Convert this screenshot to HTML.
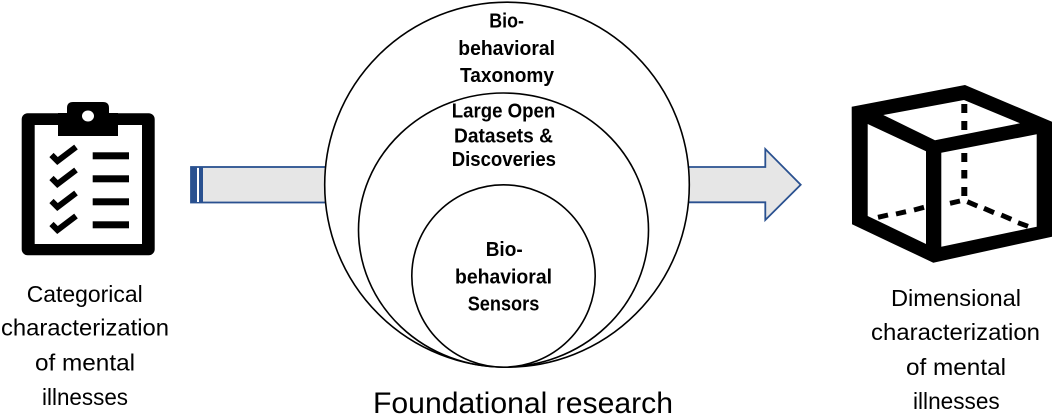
<!DOCTYPE html>
<html>
<head>
<meta charset="utf-8">
<style>
html,body{margin:0;padding:0;background:#fff;width:1053px;height:416px;overflow:hidden}
svg{display:block;filter:blur(.35px)}
text{font-family:"Liberation Sans",sans-serif;fill:#000}
.n{font-size:23.5px}
.b{font-size:20px;font-weight:bold}
</style>
</head>
<body>
<svg width="1053" height="416" viewBox="0 0 1053 416" xmlns="http://www.w3.org/2000/svg">
<rect width="1053" height="416" fill="#fff"/>

<!-- Clipboard -->
<rect x="21.7" y="113.3" width="133" height="142" rx="6" fill="#000"/>
<rect x="34.7" y="125" width="107.3" height="119" fill="#fff"/>
<path d="M58 113H67V108Q67 102 73 102H103Q109 102 109 108V113H118V136H58Z" fill="#000"/>
<ellipse cx="88" cy="116" rx="6" ry="5.5" fill="#fff"/>
<g stroke="#000" stroke-width="6" fill="none">
<path d="M51.5 155L57.5 161L76 147"/>
<path d="M51.5 178L57.5 184L76 170"/>
<path d="M51.5 201L57.5 207L76 193"/>
<path d="M51.5 224L57.5 230L76 216"/>
</g>
<g fill="#000">
<rect x="92.7" y="152.3" width="36.3" height="7"/>
<rect x="92.7" y="175.3" width="36.3" height="7"/>
<rect x="92.7" y="198.3" width="36.3" height="7"/>
<rect x="92.7" y="221.3" width="36.3" height="7"/>
</g>

<!-- Left arrow -->
<rect x="191" y="167" width="140" height="35.5" fill="#e6e6e6" stroke="#2a5190" stroke-width="1.8"/>
<rect x="191" y="167" width="6" height="35.5" fill="#2a5190"/>
<rect x="197" y="168" width="2" height="34" fill="#fff"/>
<rect x="199" y="167" width="4" height="35.5" fill="#2a5190"/>

<!-- Right arrow -->
<path d="M680 167H765.3V149L800.7 184.7L765.3 220V202.3H680Z" fill="#e6e6e6" stroke="#2a5190" stroke-width="1.8"/>

<!-- Circles -->
<g fill="#fff" stroke="#000" stroke-width="1.6">
<ellipse cx="507" cy="184.7" rx="182.3" ry="182.5"/>
<ellipse cx="503.5" cy="230" rx="145" ry="137"/>
<ellipse cx="503.5" cy="276" rx="91.7" ry="91.2"/>
</g>

<!-- Bold labels -->
<text class="b" x="489.3" y="27.7" textLength="34.7" lengthAdjust="spacingAndGlyphs">Bio-</text>
<text class="b" x="458.3" y="55" textLength="96.7" lengthAdjust="spacingAndGlyphs">behavioral</text>
<text class="b" x="460" y="82" textLength="94" lengthAdjust="spacingAndGlyphs">Taxonomy</text>
<text class="b" x="451.7" y="117.3" textLength="103.6" lengthAdjust="spacingAndGlyphs">Large Open</text>
<text class="b" x="454" y="142.3" textLength="99" lengthAdjust="spacingAndGlyphs">Datasets &amp;</text>
<text class="b" x="451.7" y="166" textLength="104.3" lengthAdjust="spacingAndGlyphs">Discoveries</text>
<text class="b" x="485.7" y="256" textLength="37" lengthAdjust="spacingAndGlyphs">Bio-</text>
<text class="b" x="455" y="283.3" textLength="97" lengthAdjust="spacingAndGlyphs">behavioral</text>
<text class="b" x="467.7" y="310.7" textLength="71.6" lengthAdjust="spacingAndGlyphs">Sensors</text>

<!-- Cube -->
<path fill-rule="evenodd" fill="#000" d="M851.7 106.7L965 85L1052 121.7V236.7L933.3 262.7L852 224.3Z
M883.3 115L964 100L1020 123.3L935 140.3Z
M867.7 124L926 151.3V244L867.7 216Z
M941.3 152.7L1036.7 134.3V226.7L941.3 246.7Z"/>
<g fill="#000">
<rect x="961.3" y="104" width="6" height="9"/>
<rect x="961.3" y="121" width="6" height="9"/>
<rect x="961.3" y="153" width="6" height="9"/>
<rect x="961.3" y="170" width="6" height="8.5"/>
<rect x="961.3" y="187" width="6" height="9"/>
</g>
<g stroke="#000" stroke-width="5" fill="none">
<path d="M950 203.3L960 201"/>
<path d="M914 210L924 207.3"/>
<path d="M896 214L906 211.7"/>
<path d="M878 217.3L888 215"/>
<path d="M967.3 201.7L977.3 206"/>
<path d="M984 208.3L994 212.7"/>
<path d="M1001.3 215L1011.3 219.3"/>
<path d="M1018 222.7L1028 226.3"/>
</g>

<!-- Side labels -->
<text class="n" x="26.7" y="302" textLength="116" lengthAdjust="spacingAndGlyphs">Categorical</text>
<text class="n" x="1" y="335.7" textLength="168" lengthAdjust="spacingAndGlyphs">characterization</text>
<text class="n" x="35" y="370.7" textLength="100" lengthAdjust="spacingAndGlyphs">of mental</text>
<text class="n" x="42" y="405" textLength="86" lengthAdjust="spacingAndGlyphs">illnesses</text>

<text class="n" x="891" y="306" textLength="130" lengthAdjust="spacingAndGlyphs">Dimensional</text>
<text class="n" x="871" y="340" textLength="169" lengthAdjust="spacingAndGlyphs">characterization</text>
<text class="n" x="906" y="375" textLength="100" lengthAdjust="spacingAndGlyphs">of mental</text>
<text class="n" x="913" y="409" textLength="86.7" lengthAdjust="spacingAndGlyphs">illnesses</text>

<text x="373" y="413" font-size="30" textLength="300" lengthAdjust="spacingAndGlyphs">Foundational research</text>
</svg>
</body>
</html>
